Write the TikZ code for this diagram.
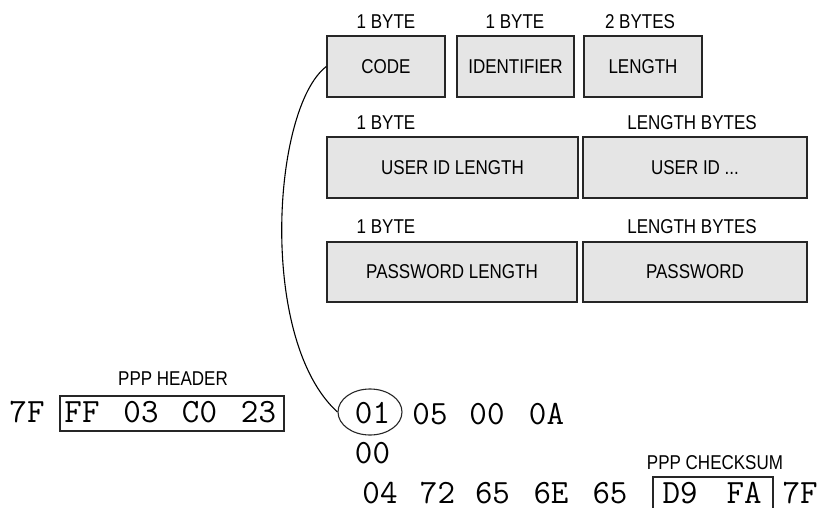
\documentclass[tikz,border=0pt]{standalone}
\usepackage{fontspec}
\newfontfamily\labfont[FakeStretch=0.85]{Liberation Sans}
\usetikzlibrary{shapes.geometric}
\definecolor{boxgray}{RGB}{229,229,229}
\tikzset{
  field/.style={draw=black!85, line width=1.3pt, fill=boxgray, inner sep=0pt,
    font=\labfont\fontsize{20}{24}\selectfont},
  lab/.style={inner sep=0pt, font=\labfont\fontsize{20}{24}\selectfont},
  hex/.style={inner sep=0pt, font=\ttfamily\fontsize{34}{36}\selectfont},
  frame/.style={draw=black!85, line width=1.1pt, inner sep=0pt},
  link/.style={draw=black, line width=1.1pt}
}
\begin{document}
\begin{tikzpicture}[x=1pt,y=-1pt]
\useasboundingbox (0,0) rectangle (821,508);
% row 1
\node[field, minimum width=118pt, minimum height=61pt] (code) at (386,66.5) {CODE};
\node[field, minimum width=117pt, minimum height=61pt] (ident) at (515.5,66.5) {IDENTIFIER};
\node[field, minimum width=118pt, minimum height=61pt] (len) at (643,66.5) {LENGTH};
\node[lab] (l1) at (386,22) {1 BYTE};
\node[lab] (l2) at (515,22) {1 BYTE};
\node[lab] (l3) at (640,22) {2 BYTES};
% row 2
\node[field, minimum width=251pt, minimum height=61pt] (uidlen) at (452.5,167.5) {USER ID LENGTH};
\node[field, minimum width=224pt, minimum height=61pt] (uid) at (695,167.5) {USER ID ...};
\node[lab] (l4) at (386,123) {1 BYTE};
\node[lab] (l5) at (692,123) {LENGTH BYTES};
% row 3
\node[field, minimum width=250pt, minimum height=60pt] (pwlen) at (452,272) {PASSWORD LENGTH};
\node[field, minimum width=224pt, minimum height=60pt] (pw) at (695,272) {PASSWORD};
\node[lab] (l6) at (386,227) {1 BYTE};
\node[lab] (l7) at (692,227) {LENGTH BYTES};
% PPP header
\node[lab] (hdrlab) at (173,379) {PPP HEADER};
\node[hex] (flag1) at (27,412) {7F};
\node[frame, minimum width=224pt, minimum height=35pt] (hdr) at (172,413.5) {};
\node[hex] (h1) at (82,412) {FF};
\node[hex] (h2) at (141,412) {03};
\node[hex] (h3) at (199.5,412) {C0};
\node[hex] (h4) at (258.5,412) {23};
% payload
\node[frame, ellipse, minimum width=64pt, minimum height=46pt] (circ) at (370,412) {};
\node[hex] (p1) at (372.5,413) {01};
\node[hex] (p2) at (430,414) {05};
\node[hex] (p3) at (487,414) {00};
\node[hex] (p4) at (546.5,414) {0A};
\node[hex] (p5) at (372.5,453) {00};
\node[hex] (p6) at (380,493) {04};
\node[hex] (p7) at (437.5,493) {72};
\node[hex] (p8) at (492.5,493) {65};
\node[hex] (p9) at (551,493) {6E};
\node[hex] (p10) at (610,493) {65};
% checksum
\node[lab] (cklab) at (715,463) {PPP CHECKSUM};
\begin{scope}
\clip (0,0) rectangle (821,508);
\node[frame, minimum width=120pt, minimum height=42pt] (ck) at (713,498) {};
\end{scope}
\node[hex] (c1) at (680,493) {D9};
\node[hex] (c2) at (744,493) {FA};
\node[hex] (flag2) at (800,493) {7F};
% connector
\draw[link] (code.west) .. controls (272,108) and (258,340) .. (circ.west);
\end{tikzpicture}
\end{document}
